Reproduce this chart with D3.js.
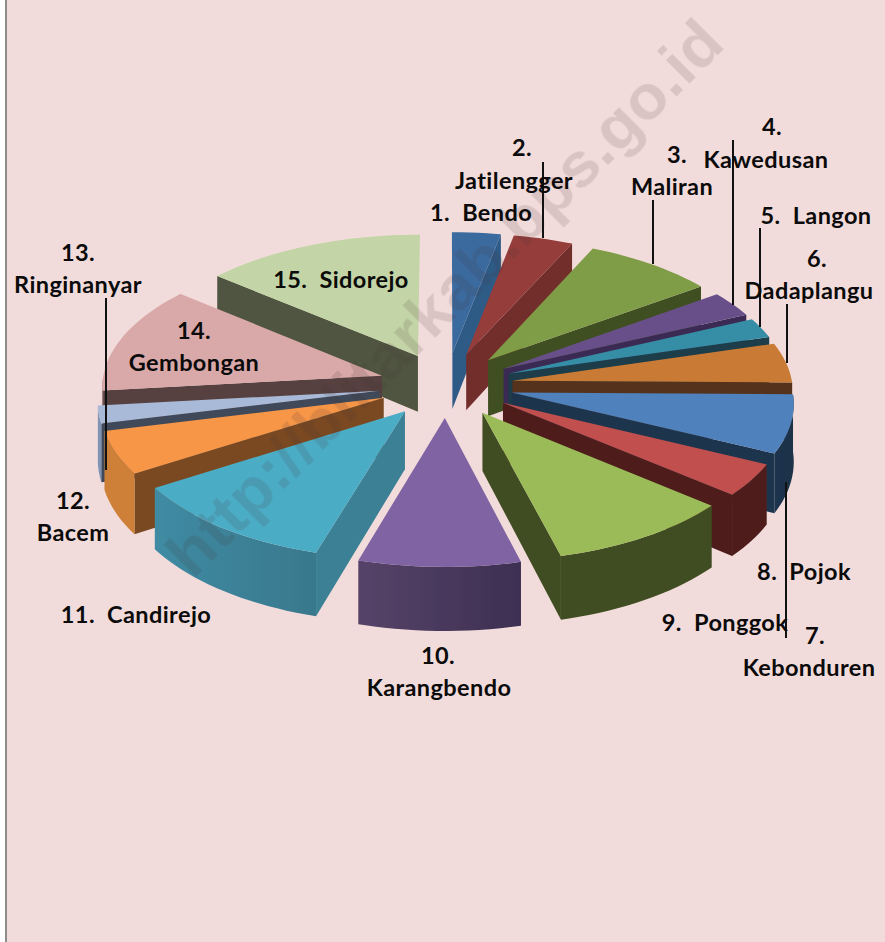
<!DOCTYPE html>
<html>
<head>
<meta charset="utf-8">
<script src="https://cdn.jsdelivr.net/npm/d3@7"></script>
<style>
html,body{margin:0;padding:0;background:#fff;overflow:hidden}
svg{display:block}
text{font-family:Lato,"Open Sans",sans-serif;font-weight:700;fill:#0b0b0b}
</style>
</head>
<body>
<svg id="c" width="885" height="942"></svg>
<script>
// Data: slice order clockwise from 12 o'clock, values are shares
const categories = ["Bendo","Jatilengger","Maliran","Kawedusan","Langon","Dadaplangu","Kebonduren","Pojok","Ponggok","Karangbendo","Candirejo","Bacem","Ringinanyar","Gembongan","Sidorejo"];
const values = [11,13.5,29.5,11,8.5,17,25,14,35.5,31,41,18.5,7.5,46,50];

// Styling
const topColors  = ["#3a6b9f","#953c3a","#7f9c47","#68508a","#358ea6","#c97a35","#4f81bd","#c0504d","#9bbb59","#8064a2","#4bacc6","#f79646","#a9bad8","#d9a8a8","#c3d5a6"];
const wallColors = ["#2f5a86","#722e2c","#414f22","#3b2c52","#1c3d48","#55321a","#1f344e","#4f1f1d","#414d20","#4a3a62","#3a8094","#7a4a20","#3f4a5a","#564140","#4f5540"];
const rimLeft    = ["#2f5a86","#722e2c","#414f22","#3b2c52","#1c3d48","#55321a","#1f344e","#4f1f1d","#414d20","#564368","#3f8ba3","#cf8039","#7f93b5","#9c7a7a","#4f5540"];
const rimRight   = ["#2f5a86","#722e2c","#414f22","#3b2c52","#1c3d48","#55321a","#1b3048","#4f1f1d","#414d20","#3d2f52","#39788c","#cf8039","#7f93b5","#9c7a7a","#4f5540"];

// Label layout: text lines, centre x, centre y of each line
const labelLayout = [
  [["1.  Bendo", 481, 213]],
  [["2.", 522, 148], ["Jatilengger", 514, 181]],
  [["3.", 677, 155], ["Maliran", 672, 187]],
  [["4.", 772, 127], ["Kawedusan", 766, 160]],
  [["5.  Langon", 816, 216]],
  [["6.", 817, 259], ["Dadaplangu", 809, 291]],
  [["7.", 815, 636], ["Kebonduren", 809, 668]],
  [["8.  Pojok", 804, 572]],
  [["9.  Ponggok", 725, 623]],
  [["10.", 438, 656], ["Karangbendo", 439, 688]],
  [["11.  Candirejo", 136, 615]],
  [["12.", 73, 501], ["Bacem", 73, 533]],
  [["13.", 78, 253], ["Ringinanyar", 78, 285]],
  [["14.", 194, 331], ["Gembongan", 194, 363]],
  [["15.  Sidorejo", 341, 280]]
];
const leaderLines = [[543,162,238],[653,200,264],[733,140,305],[760,228,327],[787,304,363],[786,482,638],[106,298,470]];

const W = 885, H = 942;
const cx = 446, cy = 385, rx = 280, ry = 135, persp = 0.07, explode = 0.24, depth = 57;

const svg = d3.select("#c");
svg.append("rect").attr("width",W).attr("height",H).attr("fill","#fff");
svg.append("rect").attr("x",7).attr("width",W-7).attr("height",H).attr("fill","#f2dcdb");
svg.append("rect").attr("x",5).attr("width",2).attr("height",H).attr("fill","#8c8c8c");

const defs = svg.append("defs");
const f = defs.append("filter").attr("id","soft").attr("x","-5%").attr("y","-5%").attr("width","110%").attr("height","110%");
f.append("feGaussianBlur").attr("stdDeviation",0.6);

const arcs = d3.pie().sort(null).value(d=>d).startAngle(0).endAngle(2*Math.PI)(values);

function project(X, Y, z){
  const w = 1 + persp*Y;
  return [cx + rx*X*w, cy + ry*Y*w + z*depth*(1+0.1*Y)];
}
const line = d3.line();
const STEP = Math.PI/90;

arcs.forEach(a=>{ a.mid=(a.startAngle+a.endAngle)/2; });
const drawOrder = arcs.slice().sort((p,q)=>Math.abs(q.mid-Math.PI)-Math.abs(p.mid-Math.PI));

const pie = svg.append("g").attr("filter","url(#soft)");

drawOrder.forEach(a=>{
  const i = a.index;
  const ax = explode*Math.sin(a.mid), ay = -explode*Math.cos(a.mid);
  const rimPt = (t,z)=>project(ax+Math.sin(t), ay-Math.cos(t), z);
  const apex = z=>project(ax,ay,z);
  const sweep = (s,e)=>{ const r=d3.range(s,e,STEP); r.push(e); return r; };
  const g = pie.append("g").attr("class","slice").datum(categories[i]);

  // radial walls facing the viewer
  if (a.endAngle < Math.PI)
    g.append("path").attr("d", line([apex(0),rimPt(a.endAngle,0),rimPt(a.endAngle,1),apex(1)])+"Z").attr("fill",wallColors[i]);
  if (a.startAngle > Math.PI)
    g.append("path").attr("d", line([apex(0),rimPt(a.startAngle,0),rimPt(a.startAngle,1),apex(1)])+"Z").attr("fill",wallColors[i]);

  // outer rim for the front half
  const s = Math.max(a.startAngle, Math.PI/2), e = Math.min(a.endAngle, 3*Math.PI/2);
  if (e > s){
    const ts = sweep(s,e);
    const pts = ts.map(t=>rimPt(t,0)).concat(ts.slice().reverse().map(t=>rimPt(t,1)));
    const gid = "rim"+i;
    const lg = defs.append("linearGradient").attr("id",gid).attr("gradientUnits","userSpaceOnUse")
      .attr("x1",d3.min(pts,p=>p[0])).attr("x2",d3.max(pts,p=>p[0])).attr("y1",0).attr("y2",0);
    lg.append("stop").attr("offset","0%").attr("stop-color",rimLeft[i]);
    lg.append("stop").attr("offset","100%").attr("stop-color",rimRight[i]);
    g.append("path").attr("d", line(pts)+"Z").attr("fill",`url(#${gid})`);
  }

  // top surface
  const topPts = [apex(0)].concat(sweep(a.startAngle,a.endAngle).map(t=>rimPt(t,0)));
  g.append("path").attr("d", line(topPts)+"Z").attr("fill",topColors[i]);
});

// watermark (under the labels)
svg.append("text").attr("transform","translate(193,580) rotate(-45)")
  .attr("textLength",755).attr("lengthAdjust","spacingAndGlyphs")
  .style("font-family","'Liberation Sans',Arial,sans-serif").style("font-weight",700)
  .style("font-size","63px").style("fill","rgba(70,55,55,0.14)")
  .attr("filter","url(#soft)")
  .text("http://blitarkab.bps.go.id");

// leader lines
svg.append("g").selectAll("line").data(leaderLines).join("line")
  .attr("x1",d=>d[0]).attr("x2",d=>d[0]).attr("y1",d=>d[1]).attr("y2",d=>d[2])
  .attr("stroke","#111").attr("stroke-width",2);

// labels
const lab = svg.append("g").attr("font-size",23.5).attr("letter-spacing",0.4).attr("text-anchor","middle");
labelLayout.forEach(lines=>lines.forEach(l=>{
  lab.append("text").attr("x",l[1]).attr("y",l[2]).attr("dy","0.36em").attr("xml:space","preserve").text(l[0]);
}));
</script>
</body>
</html>
